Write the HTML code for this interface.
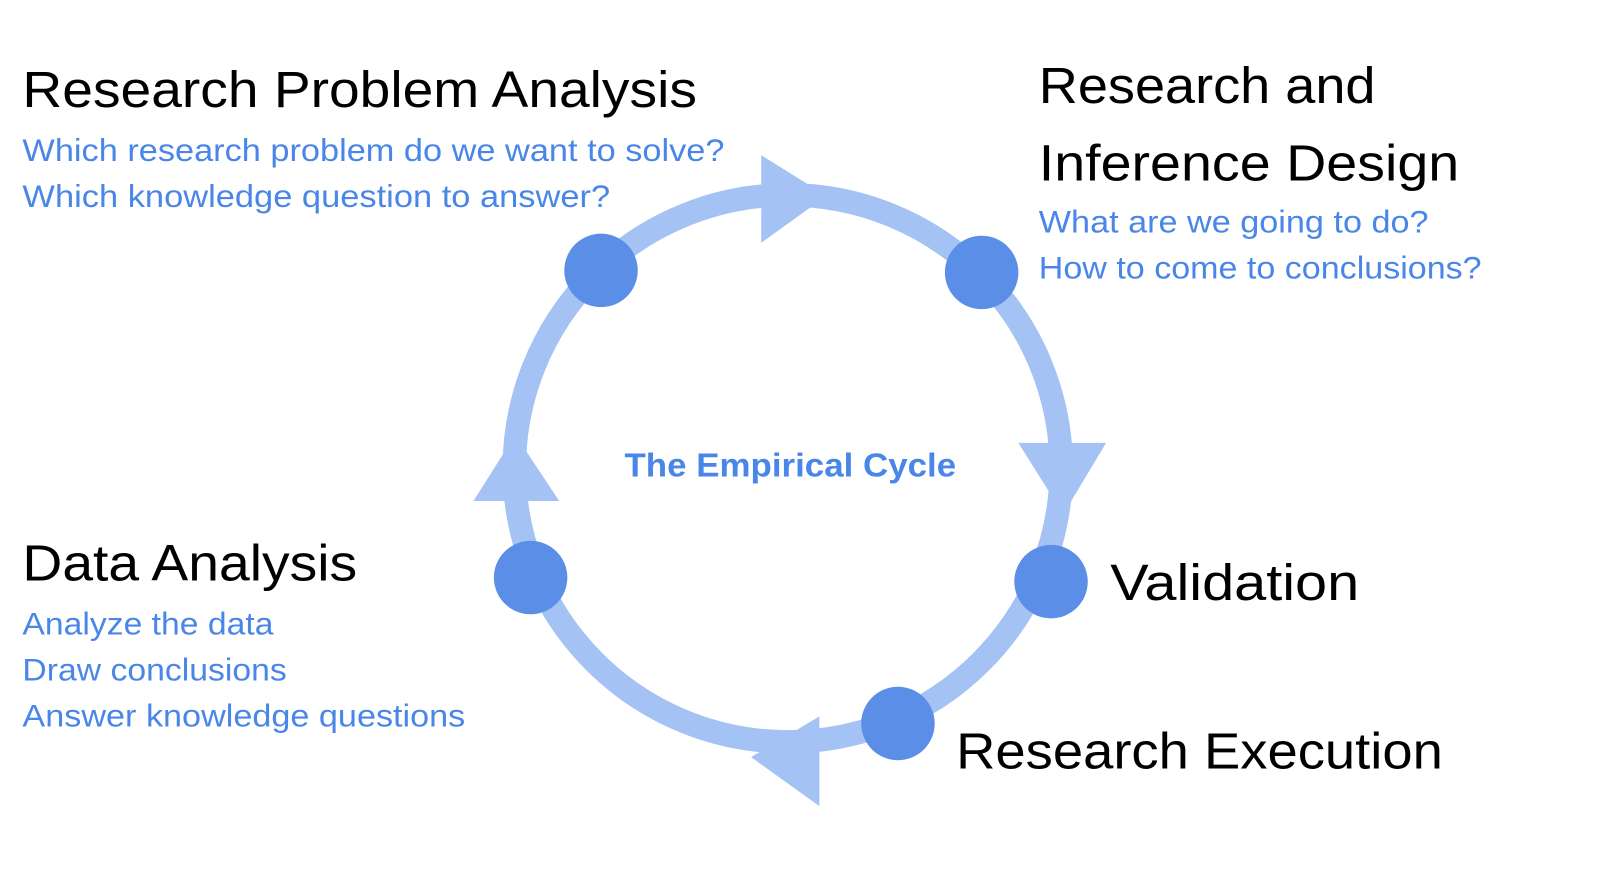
<!DOCTYPE html>
<html><head><meta charset="utf-8"><style>html,body{margin:0;padding:0;background:#fff;}svg{display:block}</style></head>
<body>
<svg width="1600" height="875" viewBox="0 0 1568 857.5" xmlns="http://www.w3.org/2000/svg" font-family="'Liberation Sans', sans-serif">
<circle cx="772" cy="459" r="268" fill="none" stroke="#a4c2f4" stroke-width="23"/>
<polygon points="746,152 746,238 810,192" fill="#a4c2f4"/>
<polygon points="998,434 1084,434 1042,504" fill="#a4c2f4"/>
<polygon points="803,702 803,790 736,742" fill="#a4c2f4"/>
<polygon points="464,491 548,491 505,426" fill="#a4c2f4"/>
<g fill="#5b8ee6">
<circle cx="589" cy="265" r="36"/>
<circle cx="962" cy="267" r="36"/>
<circle cx="1030" cy="570" r="36"/>
<circle cx="880" cy="709" r="36"/>
<circle cx="520" cy="566" r="36"/>
</g>
<g fill="#000" font-size="50">
<text x="22" y="105" textLength="661" lengthAdjust="spacingAndGlyphs">Research Problem Analysis</text>
<text x="1018" y="101" textLength="330" lengthAdjust="spacingAndGlyphs">Research and</text>
<text x="1018" y="177" textLength="412" lengthAdjust="spacingAndGlyphs">Inference Design</text>
<text x="1088" y="588" textLength="244" lengthAdjust="spacingAndGlyphs">Validation</text>
<text x="937" y="753" textLength="477" lengthAdjust="spacingAndGlyphs">Research Execution</text>
<text x="22" y="569" textLength="328" lengthAdjust="spacingAndGlyphs">Data Analysis</text>
</g>
<g fill="#4a86e8" font-size="31">
<text x="22" y="158" textLength="688" lengthAdjust="spacingAndGlyphs">Which research problem do we want to solve?</text>
<text x="22" y="203" textLength="576" lengthAdjust="spacingAndGlyphs">Which knowledge question to answer?</text>
<text x="1018" y="228" textLength="382" lengthAdjust="spacingAndGlyphs">What are we going to do?</text>
<text x="1018" y="273" textLength="434" lengthAdjust="spacingAndGlyphs">How to come to conclusions?</text>
<text x="22" y="622" textLength="246" lengthAdjust="spacingAndGlyphs">Analyze the data</text>
<text x="22" y="667" textLength="259" lengthAdjust="spacingAndGlyphs">Draw conclusions</text>
<text x="22" y="712" textLength="434" lengthAdjust="spacingAndGlyphs">Answer knowledge questions</text>
<text x="612" y="467" font-size="33" font-weight="bold" textLength="325" lengthAdjust="spacingAndGlyphs">The Empirical Cycle</text>
</g>
</svg>
</body></html>
